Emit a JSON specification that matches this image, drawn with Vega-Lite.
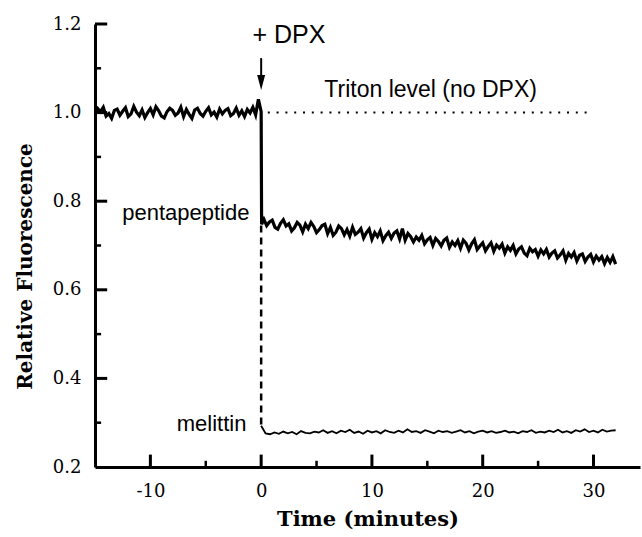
{
  "$schema": "https://vega.github.io/schema/vega-lite/v6.json",
  "width": 545,
  "height": 443,
  "autosize": "none",
  "padding": {"left": 95, "top": 24, "right": 2, "bottom": 70},
  "background": "white",
  "config": {"view": {"stroke": null}},
  "datasets": {
    "main": [
      {"t": -15, "f": 0.996}, {"t": -14.75, "f": 1.009}, {"t": -14.5, "f": 1.002}, {"t": -14.25, "f": 1.012}, {"t": -14, "f": 0.992},
      {"t": -13.75, "f": 0.998}, {"t": -13.5, "f": 0.987}, {"t": -13.25, "f": 1.005}, {"t": -13, "f": 1.008}, {"t": -12.75, "f": 0.994},
      {"t": -12.5, "f": 1.003}, {"t": -12.25, "f": 1.011}, {"t": -12, "f": 0.991}, {"t": -11.75, "f": 0.997}, {"t": -11.5, "f": 1.014},
      {"t": -11.25, "f": 1.001}, {"t": -11, "f": 0.993}, {"t": -10.75, "f": 1.006}, {"t": -10.5, "f": 0.989}, {"t": -10.25, "f": 1.000},
      {"t": -10, "f": 1.009}, {"t": -9.75, "f": 0.995}, {"t": -9.5, "f": 1.013}, {"t": -9.25, "f": 1.004}, {"t": -9, "f": 0.992},
      {"t": -8.75, "f": 0.988}, {"t": -8.5, "f": 1.002}, {"t": -8.25, "f": 1.010}, {"t": -8, "f": 1.005}, {"t": -7.75, "f": 0.994},
      {"t": -7.5, "f": 0.999}, {"t": -7.25, "f": 1.012}, {"t": -7, "f": 0.991}, {"t": -6.75, "f": 1.007}, {"t": -6.5, "f": 0.996},
      {"t": -6.25, "f": 0.987}, {"t": -6, "f": 1.006}, {"t": -5.75, "f": 1.010}, {"t": -5.5, "f": 0.998}, {"t": -5.25, "f": 0.992},
      {"t": -5, "f": 1.003}, {"t": -4.75, "f": 1.011}, {"t": -4.5, "f": 0.995}, {"t": -4.25, "f": 1.001}, {"t": -4, "f": 0.990},
      {"t": -3.75, "f": 1.008}, {"t": -3.5, "f": 0.997}, {"t": -3.25, "f": 1.005}, {"t": -3, "f": 1.009}, {"t": -2.75, "f": 0.993},
      {"t": -2.5, "f": 0.998}, {"t": -2.25, "f": 1.010}, {"t": -2, "f": 0.994}, {"t": -1.75, "f": 1.004}, {"t": -1.5, "f": 0.991},
      {"t": -1.25, "f": 1.007}, {"t": -1, "f": 0.999}, {"t": -0.75, "f": 1.012}, {"t": -0.5, "f": 0.995}, {"t": -0.25, "f": 1.030},
      {"t": 0, "f": 1.002}, {"t": 0.04, "f": 0.748},
      {"t": 0.25, "f": 0.759}, {"t": 0.5, "f": 0.745}, {"t": 0.75, "f": 0.753}, {"t": 1, "f": 0.757}, {"t": 1.25, "f": 0.741},
      {"t": 1.5, "f": 0.737}, {"t": 1.75, "f": 0.750}, {"t": 2, "f": 0.758}, {"t": 2.25, "f": 0.744}, {"t": 2.5, "f": 0.749},
      {"t": 2.75, "f": 0.733}, {"t": 3, "f": 0.740}, {"t": 3.25, "f": 0.752}, {"t": 3.5, "f": 0.746}, {"t": 3.75, "f": 0.731},
      {"t": 4, "f": 0.748}, {"t": 4.25, "f": 0.738}, {"t": 4.5, "f": 0.752}, {"t": 4.75, "f": 0.743}, {"t": 5, "f": 0.729},
      {"t": 5.25, "f": 0.736}, {"t": 5.5, "f": 0.745}, {"t": 5.75, "f": 0.748}, {"t": 6, "f": 0.727}, {"t": 6.25, "f": 0.741},
      {"t": 6.5, "f": 0.723}, {"t": 6.75, "f": 0.730}, {"t": 7, "f": 0.744}, {"t": 7.25, "f": 0.738}, {"t": 7.5, "f": 0.724},
      {"t": 7.75, "f": 0.736}, {"t": 8, "f": 0.721}, {"t": 8.25, "f": 0.741}, {"t": 8.5, "f": 0.725}, {"t": 8.75, "f": 0.730},
      {"t": 9, "f": 0.738}, {"t": 9.25, "f": 0.717}, {"t": 9.5, "f": 0.729}, {"t": 9.75, "f": 0.737}, {"t": 10, "f": 0.714},
      {"t": 10.25, "f": 0.729}, {"t": 10.5, "f": 0.720}, {"t": 10.75, "f": 0.733}, {"t": 11, "f": 0.711}, {"t": 11.25, "f": 0.722},
      {"t": 11.5, "f": 0.730}, {"t": 11.75, "f": 0.716}, {"t": 12, "f": 0.728}, {"t": 12.25, "f": 0.733}, {"t": 12.5, "f": 0.715},
      {"t": 12.75, "f": 0.738}, {"t": 13, "f": 0.712}, {"t": 13.25, "f": 0.727}, {"t": 13.5, "f": 0.720}, {"t": 13.75, "f": 0.708},
      {"t": 14, "f": 0.719}, {"t": 14.25, "f": 0.712}, {"t": 14.5, "f": 0.723}, {"t": 14.75, "f": 0.704}, {"t": 15, "f": 0.713},
      {"t": 15.25, "f": 0.718}, {"t": 15.5, "f": 0.700}, {"t": 15.75, "f": 0.716}, {"t": 16, "f": 0.709}, {"t": 16.25, "f": 0.699},
      {"t": 16.5, "f": 0.712}, {"t": 16.75, "f": 0.717}, {"t": 17, "f": 0.696}, {"t": 17.25, "f": 0.708}, {"t": 17.5, "f": 0.700},
      {"t": 17.75, "f": 0.711}, {"t": 18, "f": 0.694}, {"t": 18.25, "f": 0.712}, {"t": 18.5, "f": 0.705}, {"t": 18.75, "f": 0.690},
      {"t": 19, "f": 0.704}, {"t": 19.25, "f": 0.713}, {"t": 19.5, "f": 0.691}, {"t": 19.75, "f": 0.699}, {"t": 20, "f": 0.706},
      {"t": 20.25, "f": 0.688}, {"t": 20.5, "f": 0.698}, {"t": 20.75, "f": 0.706}, {"t": 21, "f": 0.687}, {"t": 21.25, "f": 0.701},
      {"t": 21.5, "f": 0.694}, {"t": 21.75, "f": 0.703}, {"t": 22, "f": 0.683}, {"t": 22.25, "f": 0.697}, {"t": 22.5, "f": 0.689},
      {"t": 22.75, "f": 0.700}, {"t": 23, "f": 0.681}, {"t": 23.25, "f": 0.692}, {"t": 23.5, "f": 0.697}, {"t": 23.75, "f": 0.683},
      {"t": 24, "f": 0.677}, {"t": 24.25, "f": 0.694}, {"t": 24.5, "f": 0.686}, {"t": 24.75, "f": 0.691}, {"t": 25, "f": 0.676},
      {"t": 25.25, "f": 0.690}, {"t": 25.5, "f": 0.681}, {"t": 25.75, "f": 0.691}, {"t": 26, "f": 0.674}, {"t": 26.25, "f": 0.683},
      {"t": 26.5, "f": 0.688}, {"t": 26.75, "f": 0.672}, {"t": 27, "f": 0.679}, {"t": 27.25, "f": 0.688}, {"t": 27.5, "f": 0.667},
      {"t": 27.75, "f": 0.682}, {"t": 28, "f": 0.674}, {"t": 28.25, "f": 0.684}, {"t": 28.5, "f": 0.665}, {"t": 28.75, "f": 0.678},
      {"t": 29, "f": 0.681}, {"t": 29.25, "f": 0.664}, {"t": 29.5, "f": 0.674}, {"t": 29.75, "f": 0.680}, {"t": 30, "f": 0.663},
      {"t": 30.25, "f": 0.676}, {"t": 30.5, "f": 0.667}, {"t": 30.75, "f": 0.675}, {"t": 31, "f": 0.659}, {"t": 31.25, "f": 0.673},
      {"t": 31.5, "f": 0.662}, {"t": 31.75, "f": 0.675}, {"t": 32, "f": 0.658}
    ],
    "melittin": [
      {"t": 0, "f": 0.293}, {"t": 0.4, "f": 0.276}, {"t": 0.8, "f": 0.274}, {"t": 1.2, "f": 0.278}, {"t": 1.6, "f": 0.275},
      {"t": 2, "f": 0.280}, {"t": 2.4, "f": 0.276}, {"t": 2.8, "f": 0.279}, {"t": 3.2, "f": 0.274}, {"t": 3.6, "f": 0.281},
      {"t": 4, "f": 0.277}, {"t": 4.4, "f": 0.276}, {"t": 4.8, "f": 0.280}, {"t": 5.2, "f": 0.278}, {"t": 5.6, "f": 0.283},
      {"t": 6, "f": 0.277}, {"t": 6.4, "f": 0.281}, {"t": 6.8, "f": 0.276}, {"t": 7.2, "f": 0.282}, {"t": 7.6, "f": 0.279},
      {"t": 8, "f": 0.284}, {"t": 8.4, "f": 0.277}, {"t": 8.8, "f": 0.280}, {"t": 9.2, "f": 0.275}, {"t": 9.6, "f": 0.282},
      {"t": 10, "f": 0.278}, {"t": 10.4, "f": 0.281}, {"t": 10.8, "f": 0.276}, {"t": 11.2, "f": 0.283}, {"t": 11.6, "f": 0.279},
      {"t": 12, "f": 0.277}, {"t": 12.4, "f": 0.282}, {"t": 12.8, "f": 0.278}, {"t": 13.2, "f": 0.285}, {"t": 13.6, "f": 0.279},
      {"t": 14, "f": 0.281}, {"t": 14.4, "f": 0.277}, {"t": 14.8, "f": 0.283}, {"t": 15.2, "f": 0.280}, {"t": 15.6, "f": 0.276},
      {"t": 16, "f": 0.282}, {"t": 16.4, "f": 0.279}, {"t": 16.8, "f": 0.281}, {"t": 17.2, "f": 0.277}, {"t": 17.6, "f": 0.280},
      {"t": 18, "f": 0.283}, {"t": 18.4, "f": 0.278}, {"t": 18.8, "f": 0.281}, {"t": 19.2, "f": 0.276}, {"t": 19.6, "f": 0.280},
      {"t": 20, "f": 0.282}, {"t": 20.4, "f": 0.278}, {"t": 20.8, "f": 0.281}, {"t": 21.2, "f": 0.277}, {"t": 21.6, "f": 0.279},
      {"t": 22, "f": 0.282}, {"t": 22.4, "f": 0.278}, {"t": 22.8, "f": 0.280}, {"t": 23.2, "f": 0.276}, {"t": 23.6, "f": 0.281},
      {"t": 24, "f": 0.279}, {"t": 24.4, "f": 0.283}, {"t": 24.8, "f": 0.277}, {"t": 25.2, "f": 0.280}, {"t": 25.6, "f": 0.278},
      {"t": 26, "f": 0.282}, {"t": 26.4, "f": 0.279}, {"t": 26.8, "f": 0.284}, {"t": 27.2, "f": 0.278}, {"t": 27.6, "f": 0.281},
      {"t": 28, "f": 0.277}, {"t": 28.4, "f": 0.283}, {"t": 28.8, "f": 0.280}, {"t": 29.2, "f": 0.285}, {"t": 29.6, "f": 0.279},
      {"t": 30, "f": 0.282}, {"t": 30.4, "f": 0.278}, {"t": 30.8, "f": 0.284}, {"t": 31.2, "f": 0.280}, {"t": 31.6, "f": 0.282},
      {"t": 32, "f": 0.283}
    ],
    "triton": [{"t": 0.6, "f": 1.0}, {"t": 29.6, "f": 1.0}],
    "dashdrop": [{"t": 0, "f": 0.745, "f2": 0.29}],
    "shaft": [{"t": 0, "f": 1.123, "f2": 1.074}],
    "head": [{"t": 0, "f": 1.068}],
    "xMajor": [{"t": -10}, {"t": 0}, {"t": 10}, {"t": 20}, {"t": 30}],
    "xMinor": [{"t": -5}, {"t": 5}, {"t": 15}, {"t": 25}],
    "yMajor": [{"f": 0.4}, {"f": 0.6}, {"f": 0.8}, {"f": 1.0}, {"f": 1.2}],
    "yMinor": [{"f": 0.3}, {"f": 0.5}, {"f": 0.7}, {"f": 0.9}, {"f": 1.1}],
    "labelsLeft": [{"t": -0.79, "f": 1.157, "label": "+ DPX"}],
    "labelsCenter": [{"t": 15.3, "f": 1.036, "label": "Triton level (no DPX)"}],
    "labelsRight": [{"t": -1.06, "f": 0.7586, "label": "pentapeptide"}, {"t": -1.33, "f": 0.2818, "label": "melittin"}]
  },
  "layer": [
    {
      "data": {"name": "main"},
      "mark": {"type": "line", "color": "black", "strokeWidth": 3.2, "clip": true},
      "encoding": {
        "x": {
          "field": "t", "type": "quantitative",
          "scale": {"domain": [-15, 34.2], "nice": false, "zero": false},
          "axis": {
            "values": [-10, 0, 10, 20, 30],
            "labelExpr": "'' + datum.value",
            "ticks": false,
            "domainWidth": 3, "domainColor": "black",
            "labelFont": "DejaVu Serif", "labelFontSize": 18, "labelColor": "black",
            "labelPadding": 15, "labelFlush": false, "labelOverlap": false,
            "title": "Time (minutes)", "titleFont": "DejaVu Serif", "titleFontWeight": "bold",
            "titleFontSize": 21, "titleColor": "black", "titlePadding": 8, "grid": false
          }
        },
        "y": {
          "field": "f", "type": "quantitative",
          "scale": {"domain": [0.2, 1.2], "nice": false, "zero": false},
          "axis": {
            "values": [0.2, 0.4, 0.6, 0.8, 1.0, 1.2],
            "format": ".1f",
            "ticks": false,
            "domainWidth": 3, "domainColor": "black",
            "labelFont": "DejaVu Serif", "labelFontSize": 18, "labelColor": "black",
            "labelPadding": 14, "labelFlush": false, "labelOverlap": false,
            "title": "Relative Fluorescence", "titleFont": "DejaVu Serif", "titleFontWeight": "bold",
            "titleFontSize": 20, "titleColor": "black", "titlePadding": 17, "titleY": 242, "grid": false
          }
        }
      }
    },
    {
      "data": {"name": "xMajor"},
      "mark": {"type": "rule", "color": "black", "strokeWidth": 3},
      "encoding": {"x": {"field": "t", "type": "quantitative"}, "y": {"datum": 0.2, "type": "quantitative"}, "y2": {"datum": 0.228}}
    },
    {
      "data": {"name": "xMinor"},
      "mark": {"type": "rule", "color": "black", "strokeWidth": 2.5},
      "encoding": {"x": {"field": "t", "type": "quantitative"}, "y": {"datum": 0.2, "type": "quantitative"}, "y2": {"datum": 0.214}}
    },
    {
      "data": {"name": "yMajor"},
      "mark": {"type": "rule", "color": "black", "strokeWidth": 3},
      "encoding": {"y": {"field": "f", "type": "quantitative"}, "x": {"datum": -15, "type": "quantitative"}, "x2": {"datum": -13.9}}
    },
    {
      "data": {"name": "yMinor"},
      "mark": {"type": "rule", "color": "black", "strokeWidth": 2.5},
      "encoding": {"y": {"field": "f", "type": "quantitative"}, "x": {"datum": -15, "type": "quantitative"}, "x2": {"datum": -14.45}}
    },
    {
      "data": {"name": "melittin"},
      "mark": {"type": "line", "color": "black", "strokeWidth": 1.8},
      "encoding": {"x": {"field": "t", "type": "quantitative"}, "y": {"field": "f", "type": "quantitative"}}
    },
    {
      "data": {"name": "triton"},
      "mark": {"type": "line", "color": "black", "strokeWidth": 2, "strokeDash": [2, 6.8]},
      "encoding": {"x": {"field": "t", "type": "quantitative"}, "y": {"field": "f", "type": "quantitative"}}
    },
    {
      "data": {"name": "dashdrop"},
      "mark": {"type": "rule", "color": "black", "strokeWidth": 2.5, "strokeDash": [7, 5]},
      "encoding": {"x": {"field": "t", "type": "quantitative"}, "y": {"field": "f", "type": "quantitative"}, "y2": {"field": "f2"}}
    },
    {
      "data": {"name": "shaft"},
      "mark": {"type": "rule", "color": "black", "strokeWidth": 2},
      "encoding": {"x": {"field": "t", "type": "quantitative"}, "y": {"field": "f", "type": "quantitative"}, "y2": {"field": "f2"}}
    },
    {
      "data": {"name": "head"},
      "mark": {"type": "point", "shape": "M-0.53,-1L0.53,-1L0,1Z", "size": 225, "filled": true, "color": "black", "opacity": 1},
      "encoding": {"x": {"field": "t", "type": "quantitative"}, "y": {"field": "f", "type": "quantitative"}}
    },
    {
      "data": {"name": "labelsLeft"},
      "mark": {"type": "text", "align": "left", "baseline": "alphabetic", "font": "Liberation Sans", "fontSize": 25, "color": "black"},
      "encoding": {"x": {"field": "t", "type": "quantitative"}, "y": {"field": "f", "type": "quantitative"}, "text": {"field": "label"}}
    },
    {
      "data": {"name": "labelsCenter"},
      "mark": {"type": "text", "align": "center", "baseline": "alphabetic", "font": "Liberation Sans", "fontSize": 23, "color": "black"},
      "encoding": {"x": {"field": "t", "type": "quantitative"}, "y": {"field": "f", "type": "quantitative"}, "text": {"field": "label"}}
    },
    {
      "data": {"name": "labelsRight"},
      "mark": {"type": "text", "align": "right", "baseline": "alphabetic", "font": "Liberation Sans", "fontSize": 22, "color": "black"},
      "encoding": {"x": {"field": "t", "type": "quantitative"}, "y": {"field": "f", "type": "quantitative"}, "text": {"field": "label"}}
    }
  ]
}
